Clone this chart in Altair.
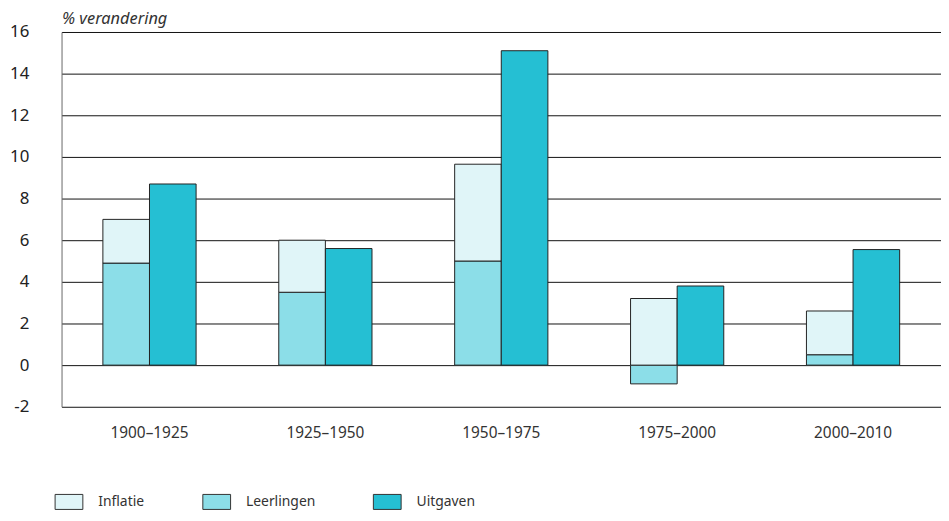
import altair as alt
import pandas as pd

periods = ["1900–1925", "1925–1950", "1950–1975", "1975–2000", "2000–2010"]
leerlingen = [4.9, 3.5, 5.0, -0.9, 0.5]
inflatie_top = [7.0, 6.0, 9.65, 3.2, 2.6]
uitgaven = [8.7, 5.6, 15.1, 3.8, 5.55]

series = ["Inflatie", "Leerlingen", "Uitgaven"]
colors = ["#E0F5F8", "#8CDEE8", "#25BFD3"]

rows = []
for p, l, it, u in zip(periods, leerlingen, inflatie_top, uitgaven):
    rows.append({"periode": p, "slot": "a", "reeks": "Leerlingen", "y0": 0, "y1": l})
    rows.append({"periode": p, "slot": "a", "reeks": "Inflatie", "y0": max(l, 0), "y1": it})
    rows.append({"periode": p, "slot": "b", "reeks": "Uitgaven", "y0": 0, "y1": u})
df = pd.DataFrame(rows)

FONT = "Noto Sans"

chart = alt.Chart(df).mark_bar(stroke="#222222", strokeWidth=1).encode(
    x=alt.X("periode:N", sort=periods,
            scale=alt.Scale(paddingInner=0.47, paddingOuter=0.235),
            axis=alt.Axis(title=None, labelAngle=0, domain=False, ticks=False,
                          labelPadding=19, labelFontSize=15.5, labelColor="#333333",
                          labelFont=FONT)),
    xOffset=alt.XOffset("slot:N", scale=alt.Scale(paddingInner=0, paddingOuter=0)),
    y=alt.Y("y0:Q", scale=alt.Scale(domain=[-2, 16], nice=False),
            axis=alt.Axis(title="% verandering", titleAngle=0, titleAlign="left",
                          titleBaseline="alphabetic", titleX=0, titleY=-9,
                          titleFont=FONT, titleFontSize=16.5, titleFontStyle="italic",
                          titleFontWeight="normal", titleColor="#333333",
                          values=list(range(-2, 17, 2)), ticks=False,
                          domain=True, domainColor="#666666", grid=True,
                          gridColor="#111111", gridWidth=1, labelPadding=33,
                          labelExpr="datum.value < 0 ? '-' + abs(datum.value) : datum.label",
                          labelFontSize=17, labelColor="#222222", labelFont=FONT)),
    y2="y1:Q",
    color=alt.Color("reeks:N", scale=alt.Scale(domain=series, range=colors),
                    legend=alt.Legend(title=None, orient="none", direction="horizontal",
                                      legendX=-7, legendY=459,
                                      symbolType="M-1,-0.54H1V0.54H-1Z", symbolSize=784,
                                      symbolStrokeColor="#333333", symbolStrokeWidth=1,
                                      symbolOpacity=1,
                                      labelOffset=15, columnPadding=56,
                                      labelFontSize=14, labelColor="#333333",
                                      labelFont=FONT)),
).properties(
    width=887, height=378,
    autosize=alt.AutoSizeParams(type="none"),
    padding={"left": 54, "top": 22, "right": 0, "bottom": 112},
).configure_view(stroke=None)

chart.save("out.html", embed_options={"renderer": "svg", "actions": False})
